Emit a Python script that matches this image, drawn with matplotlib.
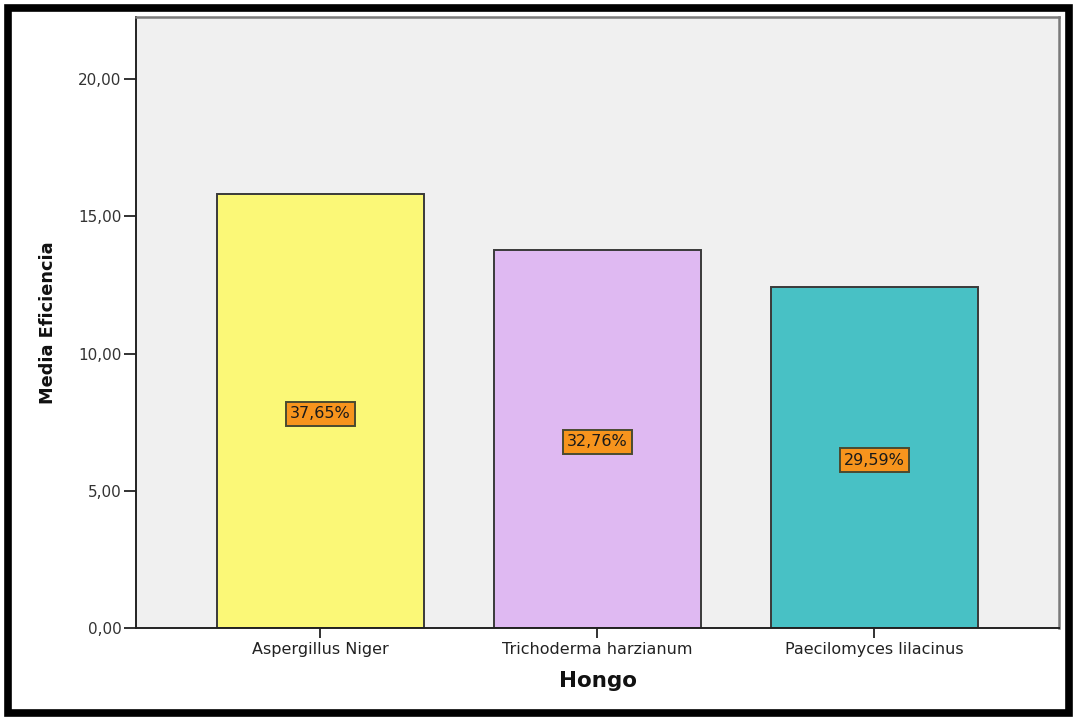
import matplotlib
matplotlib.use("Agg")
import matplotlib.pyplot as plt
from matplotlib.patches import Rectangle
from matplotlib.ticker import FuncFormatter

# mean efficiency per fungus and its share of the total
hongos = ["Aspergillus Niger", "Trichoderma harzianum", "Paecilomyces lilacinus"]
porcentaje = [37.65, 32.76, 29.59]
eficiencia_total = 42.0
media = [p * eficiencia_total / 100 for p in porcentaje]
colores = ["#fbf877", "#dfb9f2", "#48c1c5"]
y_ticks = [0, 5, 10, 15, 20]

fig = plt.figure(figsize=(10.73, 7.17), dpi=100)
ax = fig.add_axes([0.1267, 0.1241, 0.8602, 0.8522])
ax.set_facecolor("#f0f0f0")

x = list(range(len(hongos)))
ax.bar(x, media, width=0.75, color=colores, edgecolor="#3a3a3a", linewidth=1.4, zorder=2)

for xi, m, p in zip(x, media, porcentaje):
    ax.text(xi, m / 2 - 0.1, f"{p:.2f}%".replace(".", ","), ha="center", va="center",
            fontsize=11.5, color="#1a1a1a", zorder=3,
            bbox=dict(boxstyle="square,pad=0.28", fc="#f7941d", ec="#4a4a30", lw=1.4))

ax.set_xlim(-0.666, 2.666)
ax.set_ylim(0, 22.26)
ax.set_xticks(x)
ax.set_xticklabels(hongos, fontsize=11.5, color="#222222")
ax.set_yticks(y_ticks)
ax.yaxis.set_major_formatter(FuncFormatter(lambda v, _: f"{v:.2f}".replace(".", ",")))
ax.tick_params(axis="y", length=9, width=1.3, pad=1.5, labelsize=11, labelcolor="#333333",
               color="#222222")
ax.tick_params(axis="x", length=7, width=1.3, pad=3, color="#222222")

for side in ["left", "bottom"]:
    ax.spines[side].set_color("#222222")
    ax.spines[side].set_linewidth(1.4)
for side in ["top", "right"]:
    ax.spines[side].set_color("#7a7a7a")
    ax.spines[side].set_linewidth(1.8)

fig.text(48 / 1073, 1 - 322.5 / 717, "Media Eficiencia", rotation=90, ha="center",
         va="center", fontsize=12.8, fontweight="bold", color="#111111")
fig.text(598 / 1073, 1 - 681 / 717, "Hongo", ha="center", va="center",
         fontsize=15.5, fontweight="bold", color="#111111")

# heavy black frame around the whole chart
fig.patches.append(Rectangle((8 / 1073, 4 / 717), 1061 / 1073, 705 / 717,
                             transform=fig.transFigure, fill=False,
                             edgecolor="black", linewidth=5.5))

fig.savefig("out.png", dpi=100)
